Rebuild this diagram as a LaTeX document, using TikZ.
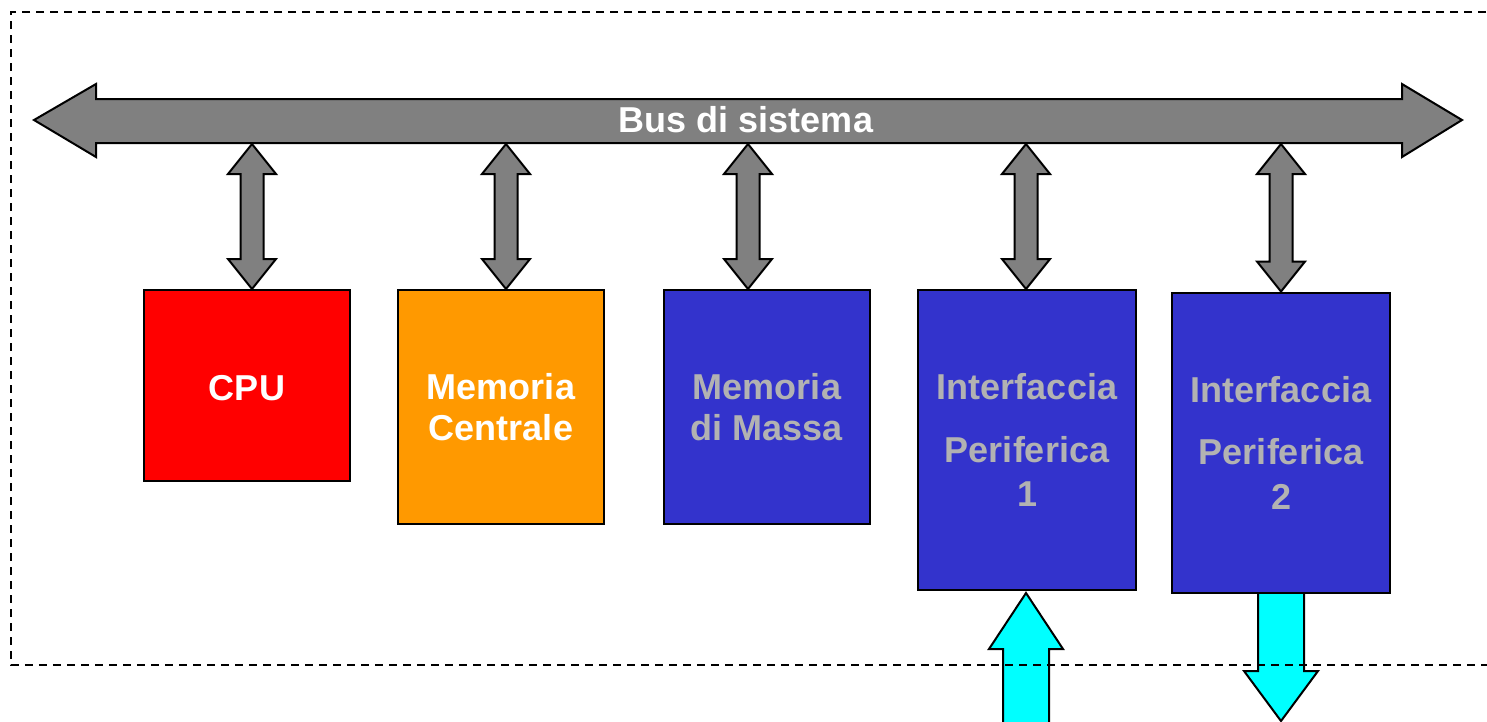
\documentclass[tikz,border=0pt]{standalone}
\usepackage{fontspec}
\setmainfont{Liberation Sans}
\usetikzlibrary{calc}
\definecolor{busgray}{RGB}{128,128,128}
\definecolor{boxblue}{RGB}{51,51,204}
\definecolor{boxorange}{RGB}{255,153,0}
\definecolor{boxred}{RGB}{255,0,0}
\definecolor{iocyan}{RGB}{0,255,255}
\definecolor{labelgray}{RGB}{178,178,178}
\tikzset{
  unitbox/.style={draw=black, line width=2pt, inner sep=0pt, outer sep=0pt,
    align=center, font=\fontsize{36}{41}\selectfont\bfseries},
  wide/.style={font=\fontsize{36}{44.5}\selectfont\bfseries},
  fatarrow/.style={draw=black, line width=2pt, line join=miter, fill=busgray},
  ioarrow/.style={draw=black, line width=2pt, line join=miter, fill=iocyan},
  frame/.style={draw=black, line width=2pt, dash pattern=on 8pt off 6pt}
}
% vertical double arrow between a point on the bus and a point on a unit
\newcommand\busarrow[2]{%
  \draw[fatarrow] (#1) -- ($(#1)+(24,30)$) -- ($(#1)+(11.5,30)$)
    -- ($(#2)+(11.5,-30)$) -- ($(#2)+(24,-30)$) -- (#2)
    -- ($(#2)+(-24,-30)$) -- ($(#2)+(-11.5,-30)$)
    -- ($(#1)+(-11.5,30)$) -- ($(#1)+(-24,30)$) -- cycle;}
\begin{document}
\begin{tikzpicture}[x=1pt,y=-1pt]
\clip (0,0) rectangle (1487,721);
\fill[white] (0,0) rectangle (1487,721);

% system bus
\coordinate (busL) at (34,120);
\coordinate (busR) at (1462,120);
\coordinate (busbot) at (0,144);
\draw[fatarrow] (busL) -- ($(busL)+(62,-36)$) -- ($(busL)+(62,-21)$)
  -- ($(busR)+(-60,-21)$) -- ($(busR)+(-60,-36)$) -- (busR)
  -- ($(busR)+(-60,37)$) -- ($(busR)+(-60,23)$)
  -- ($(busL)+(62,23)$) -- ($(busL)+(62,37)$) -- cycle;
\node[text=white, font=\fontsize{36}{41}\selectfont\bfseries] (bus) at (746,120) {Bus di sistema};

% functional units
\node[unitbox, text height=31pt, fill=boxred, text=white, minimum width=206, minimum height=191]
  (cpu) at (247,385.5) {CPU};
\node[unitbox, fill=boxorange, text=white, minimum width=206, minimum height=234]
  (mc) at (501,407) {Memoria\\Centrale};
\node[unitbox, fill=boxblue, text=labelgray, minimum width=206, minimum height=234]
  (mm) at (767,407) {Memoria\\di Massa};
\node[unitbox, wide, fill=boxblue, text=labelgray, minimum width=218, minimum height=300]
  (if1) at (1027,440) {Interfaccia\\[18pt]Periferica\\1};

% output flow of the second interface (behind its box)
\coordinate (out2) at (1281,721);
\coordinate (if2top) at (1281,593);
\draw[ioarrow] ($(if2top)+(-23,-4)$) -- ($(if2top)+(23,-4)$) -- ($(if2top)+(23,78)$)
  -- ($(if2top)+(37,78)$) -- (out2) -- ($(if2top)+(-37,78)$)
  -- ($(if2top)+(-23,78)$) -- cycle;

\node[unitbox, wide, fill=boxblue, text=labelgray, minimum width=218, minimum height=300]
  (if2) at (1281,442.5) {Interfaccia\\[18pt]Periferica\\2};

% bus connections
\coordinate (c1) at ([xshift=5pt,yshift=1pt]cpu.north);
\coordinate (c2) at ([xshift=5pt,yshift=1pt]mc.north);
\coordinate (c3) at ([xshift=-19pt,yshift=1pt]mm.north);
\coordinate (c4) at ([xshift=-1pt,yshift=1pt]if1.north);
\coordinate (c5) at ([yshift=1pt]if2.north);
\busarrow{c1 |- busbot}{c1}
\busarrow{c2 |- busbot}{c2}
\busarrow{c3 |- busbot}{c3}
\busarrow{c4 |- busbot}{c4}
\busarrow{c5 |- busbot}{c5}

% input flow of the first interface
\coordinate (if1tip) at ([xshift=-1pt,yshift=-3pt]if1.south);
\path (if1tip) ++(0,137) coordinate (in1);
\draw[ioarrow] (if1tip) -- ($(if1tip)+(37,56)$) -- ($(if1tip)+(23,56)$)
  -- ($(in1)+(23,0)$) -- ($(in1)+(-23,0)$)
  -- ($(if1tip)+(-23,56)$) -- ($(if1tip)+(-37,56)$) -- cycle;

% computer boundary
\draw[frame] (1500,12) -- (11,12) -- (11,665) -- (1500,665);
\end{tikzpicture}
\end{document}
